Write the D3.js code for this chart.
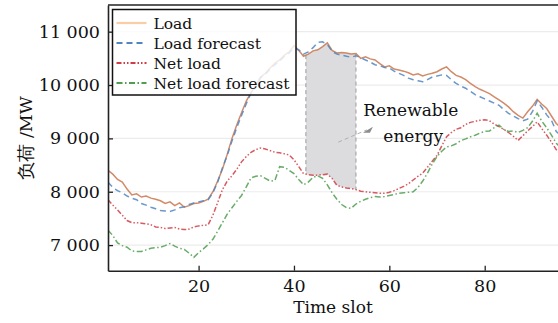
<!DOCTYPE html>
<html>
<head>
<meta charset="utf-8">
<script src="https://cdn.jsdelivr.net/npm/d3@7"></script>
<style>
  body { margin: 0; background: #fff; }
  svg { display: block; overflow: hidden; }
</style>
</head>
<body>
<div id="viz"></div>
<script>
// Chart data, one value per time slot (1..96)
const slots = d3.range(1, 97);

const load = [
  8400, 8330, 8230, 8180, 8050, 7940, 7960, 7900, 7920, 7880, 7860, 7830,
  7780, 7810, 7740, 7790, 7710, 7740, 7780, 7790, 7820, 7860, 8000, 8200,
  8420, 8700, 9000, 9250, 9480, 9700, 9860, 10000, 10150, 10220, 10320, 10410,
  10470, 10560, 10620, 10740, 10650, 10540, 10580, 10640, 10660, 10720, 10790, 10650,
  10600, 10610, 10600, 10580, 10590, 10500, 10530, 10490, 10470, 10400, 10340, 10360,
  10300, 10280, 10260, 10230, 10190, 10210, 10170, 10200, 10220, 10250, 10300, 10340,
  10250, 10180, 10150, 10100, 10030, 9970, 9920, 9880, 9840, 9780, 9720, 9660,
  9590, 9500, 9430, 9380, 9500, 9600, 9730, 9640, 9560, 9420, 9280, 9200
];

const loadForecast = [
  8180, 8080, 8020, 7980, 7920, 7880, 7850, 7780, 7750, 7710, 7680, 7650,
  7640, 7630, 7660, 7700, 7720, 7760, 7790, 7810, 7830, 7850, 7980, 8180,
  8450, 8680, 8950, 9200, 9430, 9650, 9850, 9960, 10140, 10200, 10300, 10380,
  10450, 10540, 10600, 10700, 10660, 10580, 10620, 10700, 10800, 10810, 10760, 10630,
  10580, 10560, 10540, 10520, 10550, 10510, 10470, 10430, 10380, 10360, 10330, 10320,
  10260, 10220, 10180, 10130, 10100, 10080, 10060, 10100, 10150, 10170, 10190, 10180,
  10100, 10030, 9980, 9940, 9880, 9820, 9780, 9740, 9700, 9660, 9620, 9540,
  9470, 9420, 9370, 9330, 9360, 9500, 9700, 9580, 9440, 9340, 9130, 9050
];

const netLoad = [
  7850, 7750, 7660, 7560, 7460, 7420, 7420, 7410, 7400, 7380, 7340, 7330,
  7310, 7320, 7330, 7300, 7290, 7300, 7340, 7360, 7370, 7380, 7560, 7800,
  8040, 8200, 8300, 8420, 8560, 8660, 8740, 8790, 8820, 8800, 8770, 8740,
  8730, 8710, 8690, 8600, 8470, 8340, 8320, 8310, 8310, 8320, 8330, 8250,
  8120, 8090, 8070, 8060, 8040, 8010, 8000, 7990, 7980, 7970, 7970, 7990,
  8020, 8060, 8100, 8150, 8220, 8290, 8350, 8460, 8570, 8680, 8860, 9030,
  9110, 9170, 9200, 9260, 9300, 9320, 9340, 9350, 9330, 9270, 9220, 9170,
  9110, 9040, 8960, 9050, 9140, 9220, 9310, 9180, 9060, 8930, 8790, 8700
];

const netLoadForecast = [
  7280, 7180, 7040, 6990, 6960, 6890, 6880, 6880, 6910, 6940, 6950, 6960,
  6990, 7030, 6980, 6940, 6920, 6850, 6770, 6860, 6930, 7010, 7110, 7260,
  7420, 7580, 7700, 7820, 7930, 8090, 8260, 8290, 8300, 8250, 8200, 8210,
  8470, 8460, 8400, 8340, 8230, 8130, 8180, 8270, 8300, 8250, 8130, 7980,
  7860, 7760, 7700, 7690, 7770, 7820, 7860, 7890, 7910, 7900, 7910, 7930,
  7950, 7970, 7980, 7990, 8000, 8080, 8200, 8350, 8520, 8660, 8760, 8840,
  8860, 8900, 8960, 8990, 9030, 9060, 9100, 9130, 9140, 9200, 9250, 9170,
  9130, 9140, 9110, 9150, 9200, 9320, 9470, 9320, 9200, 9060, 8910, 8820
];

const seriesNames = ["Load", "Load forecast", "Net load", "Net load forecast"];
const yTicks = [7000, 8000, 9000, 10000, 11000];
const xTicks = [20, 40, 60, 80];

// shaded renewable band (time slots) and its annotation
const shadeRange = [42.5, 53];
const arrowFrom = [49.3, 8930];
const arrowTo = [55.3, 9160];
const annotationLines = [["Renewable", 64.5, 9420], ["energy", 65, 8940]];

const width = 558;
const height = 323;
const serif = "'DejaVu Serif', serif";
const fmt = v => d3.format(",")(v).replace(",", " ");

const svg = d3.select("#viz").append("svg")
  .attr("width", width)
  .attr("height", height)
  .attr("font-family", serif);

svg.append("rect").attr("width", width).attr("height", height).attr("fill", "#fff");

// We create the scales
const x = d3.scaleLinear().domain([1, 96]).range([108, 561]);
const y = d3.scaleLinear().domain([6520, 11500]).range([270.7, 5]);

svg.append("clipPath").attr("id", "plot-clip")
  .append("rect")
  .attr("x", 108).attr("y", 5)
  .attr("width", 453).attr("height", 265.7);

// light horizontal grid
svg.append("g")
  .selectAll("line")
  .data(yTicks)
  .join("line")
  .attr("x1", 108).attr("x2", width)
  .attr("y1", d => y(d)).attr("y2", d => y(d))
  .attr("stroke", "#ececec")
  .attr("stroke-width", 1.2);

const plot = svg.append("g").attr("clip-path", "url(#plot-clip)");

// Shaded area between load and net load
const valueAt = (arr, s) => {
  const i = Math.floor(s) - 1;
  const t = s - Math.floor(s);
  return i + 1 < arr.length ? arr[i] * (1 - t) + arr[i + 1] * t : arr[i];
};
const shadeSlots = [shadeRange[0]]
  .concat(slots.filter(s => s > shadeRange[0] && s < shadeRange[1]))
  .concat([shadeRange[1]]);

plot.append("path")
  .datum(shadeSlots)
  .attr("fill", "#dcdcde")
  .attr("d", d3.area()
    .x(s => x(s))
    .y0(s => y(valueAt(netLoad, s)))
    .y1(s => y(valueAt(load, s))));

shadeRange.forEach(s => {
  plot.append("line")
    .attr("x1", x(s)).attr("x2", x(s))
    .attr("y1", y(valueAt(load, s))).attr("y2", y(valueAt(netLoad, s)))
    .attr("stroke", "#9a9a9a")
    .attr("stroke-width", 1)
    .attr("stroke-dasharray", "4,3");
});

// Annotation arrow
plot.append("line")
  .attr("x1", x(arrowFrom[0])).attr("y1", y(arrowFrom[1]))
  .attr("x2", x(arrowTo[0])).attr("y2", y(arrowTo[1]))
  .attr("stroke", "#b0b0b0")
  .attr("stroke-width", 1)
  .attr("stroke-dasharray", "4,3");

const ax = x(arrowTo[0]), ay = y(arrowTo[1]);
plot.append("path")
  .attr("d", `M${ax - 4},${ay + 3} L${ax + 6},${ay - 3} L${ax + 3},${ay + 3} Z`)
  .attr("fill", "#8c8c8c");

// The four curves
const series = [
  { name: seriesNames[0], values: load, color: "#c9774f", legendColor: "#f9cda6", dash: null },
  { name: seriesNames[1], values: loadForecast, color: "#4f86c2", legendColor: "#4f86c2", dash: "6,4" },
  { name: seriesNames[2], values: netLoad, color: "#cf3d44", legendColor: "#cf3d44", dash: "5,2,1.5,2,1.5,2" },
  { name: seriesNames[3], values: netLoadForecast, color: "#4f9e4f", legendColor: "#4f9e4f", dash: "6,2.5,1.5,2.5" }
];

const line = d3.line().x((d, i) => x(slots[i])).y(d => y(d));

series.forEach(s => {
  plot.append("path")
    .datum(s.values)
    .attr("fill", "none")
    .attr("stroke", s.color)
    .attr("stroke-width", 1.5)
    .attr("stroke-opacity", 0.85)
    .attr("stroke-dasharray", s.dash)
    .attr("d", line);
});

// Annotation text
svg.append("g")
  .selectAll("text")
  .data(annotationLines)
  .join("text")
  .attr("x", d => x(d[1]))
  .attr("y", d => y(d[2]))
  .attr("text-anchor", "middle")
  .attr("font-size", 17)
  .text(d => d[0]);

// Axes with inward ticks
const yAxis = svg.append("g")
  .attr("transform", "translate(108,0)")
  .call(d3.axisLeft(y).tickValues(yTicks).tickSize(-5).tickSizeOuter(0).tickPadding(8).tickFormat(fmt));

const xAxis = svg.append("g")
  .attr("transform", "translate(0,270.7)")
  .call(d3.axisBottom(x).tickValues(xTicks).tickSize(-5).tickSizeOuter(0).tickPadding(9));

[yAxis, xAxis].forEach(g => {
  g.attr("font-family", serif).attr("font-size", 17.5);
  g.selectAll("path.domain").attr("stroke", "#222").attr("stroke-width", 1.6);
  g.selectAll(".tick line").attr("stroke", "#222").attr("stroke-width", 1.3);
  g.selectAll("text").attr("fill", "#111");
});

// top spine
svg.append("line")
  .attr("x1", 108).attr("x2", width)
  .attr("y1", 5).attr("y2", 5)
  .attr("stroke", "#222")
  .attr("stroke-width", 1.6);

// Axis labels
svg.append("text")
  .attr("x", 333)
  .attr("y", 313)
  .attr("text-anchor", "middle")
  .attr("font-size", 17)
  .text("Time slot");

svg.append("text")
  .attr("transform", "translate(32,138) rotate(-90)")
  .attr("text-anchor", "middle")
  .attr("font-size", 17.5)
  .text("负荷 /MW");

// Legend
const legend = svg.append("g").attr("transform", "translate(112.5,9.5)");

legend.append("rect")
  .attr("width", 183.5)
  .attr("height", 85.5)
  .attr("fill", "#fff")
  .attr("fill-opacity", 0.8)
  .attr("stroke", "#111")
  .attr("stroke-width", 1.5);

const rows = legend.selectAll("g.row")
  .data(series)
  .join("g")
  .attr("class", "row")
  .attr("transform", (d, i) => `translate(0,${13.5 + i * 20})`);

rows.append("line")
  .attr("x1", 4).attr("x2", 34)
  .attr("stroke", d => d.legendColor)
  .attr("stroke-width", 2.2)
  .attr("stroke-dasharray", d => d.dash);

rows.append("text")
  .attr("x", 41)
  .attr("y", 6)
  .attr("font-size", 15.5)
  .text(d => d.name);

svg.selectAll("text").style("font-family", serif).attr("fill", "#111");
</script>
</body>
</html>
